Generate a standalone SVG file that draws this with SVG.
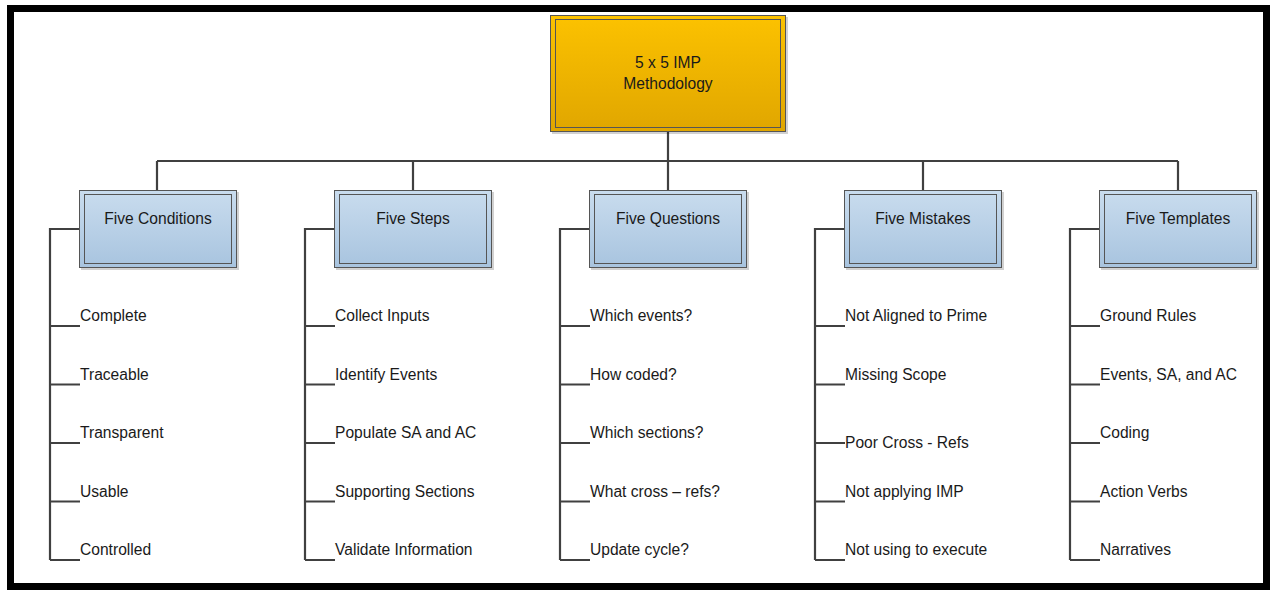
<svg xmlns="http://www.w3.org/2000/svg" width="1271" height="590" viewBox="0 0 1271 590">
<defs>
<linearGradient id="gBlue" x1="0" y1="0" x2="0" y2="1">
<stop offset="0" stop-color="#c9dcee"/>
<stop offset="1" stop-color="#a8c4df"/>
</linearGradient>
<linearGradient id="gGold" x1="0" y1="0" x2="0" y2="1">
<stop offset="0" stop-color="#fcc200"/>
<stop offset="1" stop-color="#e0a600"/>
</linearGradient>
<style>
.t{font-family:"Liberation Sans",Arial,sans-serif;font-size:15.6px;fill:#1a1a1a}
.c{text-anchor:middle}
.ln{stroke:#404040;stroke-width:2.2;fill:none}
.bo{fill:url(#gBlue);stroke:#555;stroke-width:1}
.bi{fill:none;stroke:#555;stroke-width:1}
.sh{fill:#000;opacity:0.18}
</style>
</defs>
<rect x="0" y="0" width="1271" height="590" fill="#fff"/>
<rect x="10.5" y="8.5" width="1256" height="578" fill="none" stroke="#000" stroke-width="7"/>
<g id="connectors">
<path class="ln" d="M668 132V161M157 161H1178M157 161V190M413 161V190M668 161V190M923 161V190M1178 161V190"/>
<path class="ln" d="M80 229H50V560M50 326H80M50 384.5H80M50 443H80M50 501.5H80M50 560H80"/>
<path class="ln" d="M335 229H305V560M305 326H335M305 384.5H335M305 443H335M305 501.5H335M305 560H335"/>
<path class="ln" d="M590 229H560V560M560 326H590M560 384.5H590M560 443H590M560 501.5H590M560 560H590"/>
<path class="ln" d="M845 229H815V560M815 326H845M815 384.5H845M815 443H845M815 501.5H845M815 560H845"/>
<path class="ln" d="M1100 229H1070V560M1070 326H1100M1070 384.5H1100M1070 443H1100M1070 501.5H1100M1070 560H1100"/>
</g>
<g id="root">
<rect class="sh" x="552" y="17" width="236" height="117"/>
<rect x="550.5" y="15.5" width="235" height="116" fill="url(#gGold)" stroke="#555" stroke-width="1"/>
<rect class="bi" x="555.5" y="19.5" width="225" height="108"/>
<text class="t c" x="668" y="68">5 x 5 IMP</text>
<text class="t c" x="668" y="89">Methodology</text>
</g>
<g id="n1">
<rect class="sh" x="81" y="192" width="158" height="78"/>
<rect class="bo" x="79.5" y="190.5" width="157" height="77"/>
<rect class="bi" x="84.5" y="194.5" width="147" height="69"/>
<text class="t c" x="158" y="224">Five Conditions</text>
</g>
<g id="n2">
<rect class="sh" x="336" y="192" width="158" height="78"/>
<rect class="bo" x="334.5" y="190.5" width="157" height="77"/>
<rect class="bi" x="339.5" y="194.5" width="147" height="69"/>
<text class="t c" x="413" y="224">Five Steps</text>
</g>
<g id="n3">
<rect class="sh" x="591" y="192" width="158" height="78"/>
<rect class="bo" x="589.5" y="190.5" width="157" height="77"/>
<rect class="bi" x="594.5" y="194.5" width="147" height="69"/>
<text class="t c" x="668" y="224">Five Questions</text>
</g>
<g id="n4">
<rect class="sh" x="846" y="192" width="158" height="78"/>
<rect class="bo" x="844.5" y="190.5" width="157" height="77"/>
<rect class="bi" x="849.5" y="194.5" width="147" height="69"/>
<text class="t c" x="923" y="224">Five Mistakes</text>
</g>
<g id="n5">
<rect class="sh" x="1101" y="192" width="158" height="78"/>
<rect class="bo" x="1099.5" y="190.5" width="157" height="77"/>
<rect class="bi" x="1104.5" y="194.5" width="147" height="69"/>
<text class="t c" x="1178" y="224">Five Templates</text>
</g>
<g id="leaves1">
<text class="t" x="80" y="321">Complete</text>
<text class="t" x="80" y="380">Traceable</text>
<text class="t" x="80" y="438">Transparent</text>
<text class="t" x="80" y="497">Usable</text>
<text class="t" x="80" y="555">Controlled</text>
</g>
<g id="leaves2">
<text class="t" x="335" y="321">Collect Inputs</text>
<text class="t" x="335" y="380">Identify Events</text>
<text class="t" x="335" y="438">Populate SA and AC</text>
<text class="t" x="335" y="497">Supporting Sections</text>
<text class="t" x="335" y="555">Validate Information</text>
</g>
<g id="leaves3">
<text class="t" x="590" y="321">Which events?</text>
<text class="t" x="590" y="380">How coded?</text>
<text class="t" x="590" y="438">Which sections?</text>
<text class="t" x="590" y="497">What cross – refs?</text>
<text class="t" x="590" y="555">Update cycle?</text>
</g>
<g id="leaves4">
<text class="t" x="845" y="321">Not Aligned to Prime</text>
<text class="t" x="845" y="380">Missing Scope</text>
<text class="t" x="845" y="448">Poor Cross - Refs</text>
<text class="t" x="845" y="497">Not applying IMP</text>
<text class="t" x="845" y="555">Not using to execute</text>
</g>
<g id="leaves5">
<text class="t" x="1100" y="321">Ground Rules</text>
<text class="t" x="1100" y="380">Events, SA, and AC</text>
<text class="t" x="1100" y="438">Coding</text>
<text class="t" x="1100" y="497">Action Verbs</text>
<text class="t" x="1100" y="555">Narratives</text>
</g>
</svg>
